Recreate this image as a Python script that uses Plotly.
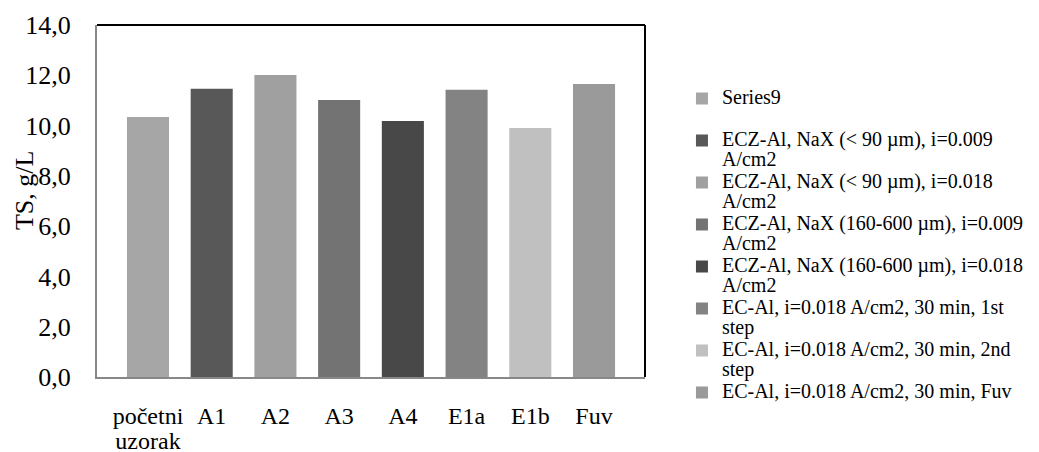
import plotly.graph_objects as go

categories = ["početni uzorak", "A1", "A2", "A3", "A4", "E1a", "E1b", "Fuv"]
tick_labels = ["početni<br>uzorak", "A1", "A2", "A3", "A4", "E1a", "E1b", "Fuv"]
values = [10.34, 11.46, 12.01, 11.02, 10.18, 11.42, 9.90, 11.65]
series_names = [
    "Series9",
    "ECZ-Al, NaX (&lt; 90 µm), i=0.009<br>A/cm2",
    "ECZ-Al, NaX (&lt; 90 µm), i=0.018<br>A/cm2",
    "ECZ-Al, NaX (160-600 µm), i=0.009<br>A/cm2",
    "ECZ-Al, NaX (160-600 µm), i=0.018<br>A/cm2",
    "EC-Al, i=0.018 A/cm2, 30 min, 1st<br>step",
    "EC-Al, i=0.018 A/cm2, 30 min, 2nd<br>step",
    "EC-Al, i=0.018 A/cm2, 30 min, Fuv",
]
colors = ["#a6a6a6", "#585858", "#a0a0a0", "#737373", "#484848", "#838383", "#c0c0c0", "#9a9a9a"]

FONT = "Liberation Serif, Times New Roman, serif"


def styled(text, size, pad_second=False):
    lines = text.split("<br>")
    if pad_second and len(lines) == 1:
        lines.append("&nbsp;")
    return "<br>".join(f"<span style='font-size:{size}px'>{ln}</span>" for ln in lines)


fig = go.Figure()
for cat, val, name, col in zip(categories, values, series_names, colors):
    fig.add_trace(go.Bar(x=[cat], y=[val], name=styled(name, 20, pad_second=True),
                         marker_color=col, marker_line_width=0, width=0.66))

# page body has an 8px default margin, so the figure is 8px smaller than the window
fig.update_layout(
    width=1031, height=444,
    margin=dict(l=89, r=394, t=17, b=75, autoexpand=False),
    paper_bgcolor="white", plot_bgcolor="white",
    barmode="overlay",
    separators=",.",
    font=dict(family=FONT, size=26, color="#000000"),
    showlegend=True,
    legend=dict(
        xref="container", yref="container",
        x=0.6537, y=0.833, xanchor="left", yanchor="top",
        font=dict(family=FONT, size=15, color="#000000"),
        valign="top", tracegroupgap=0, bgcolor="rgba(0,0,0,0)",
        maxheight=1.0,
    ),
)
fig.update_xaxes(
    categoryorder="array", categoryarray=categories,
    range=[-0.8, 7.8],
    tickmode="array", tickvals=categories,
    ticktext=[styled(t, 24) for t in tick_labels],
    automargin=False,
    showline=True, linecolor="#888888", linewidth=2,
    showgrid=False, ticks="", ticklabelstandoff=22,
    tickfont=dict(family=FONT, size=19, color="#000000"),
)
fig.update_yaxes(
    range=[0, 14], dtick=2, tickformat=".1f", automargin=False,
    showline=True, linecolor="#888888", linewidth=2,
    showgrid=False, ticks="", ticklabelstandoff=19, zeroline=False,
    tickfont=dict(family=FONT, size=26, color="#000000"),
)
# black frame on top and right edges of plot area
fig.add_shape(type="line", xref="paper", yref="paper", x0=0, x1=1, y0=1, y1=1,
              line=dict(color="#000000", width=2))
fig.add_shape(type="line", xref="paper", yref="paper", x0=1, x1=1, y0=0, y1=1,
              line=dict(color="#000000", width=2))
fig.add_annotation(text="TS, g/L", textangle=-90, xref="paper", yref="paper",
                   x=-0.132, y=0.53, xanchor="center", yanchor="middle", showarrow=False,
                   font=dict(family=FONT, size=26, color="#000000"))

fig.write_html("out.html")
